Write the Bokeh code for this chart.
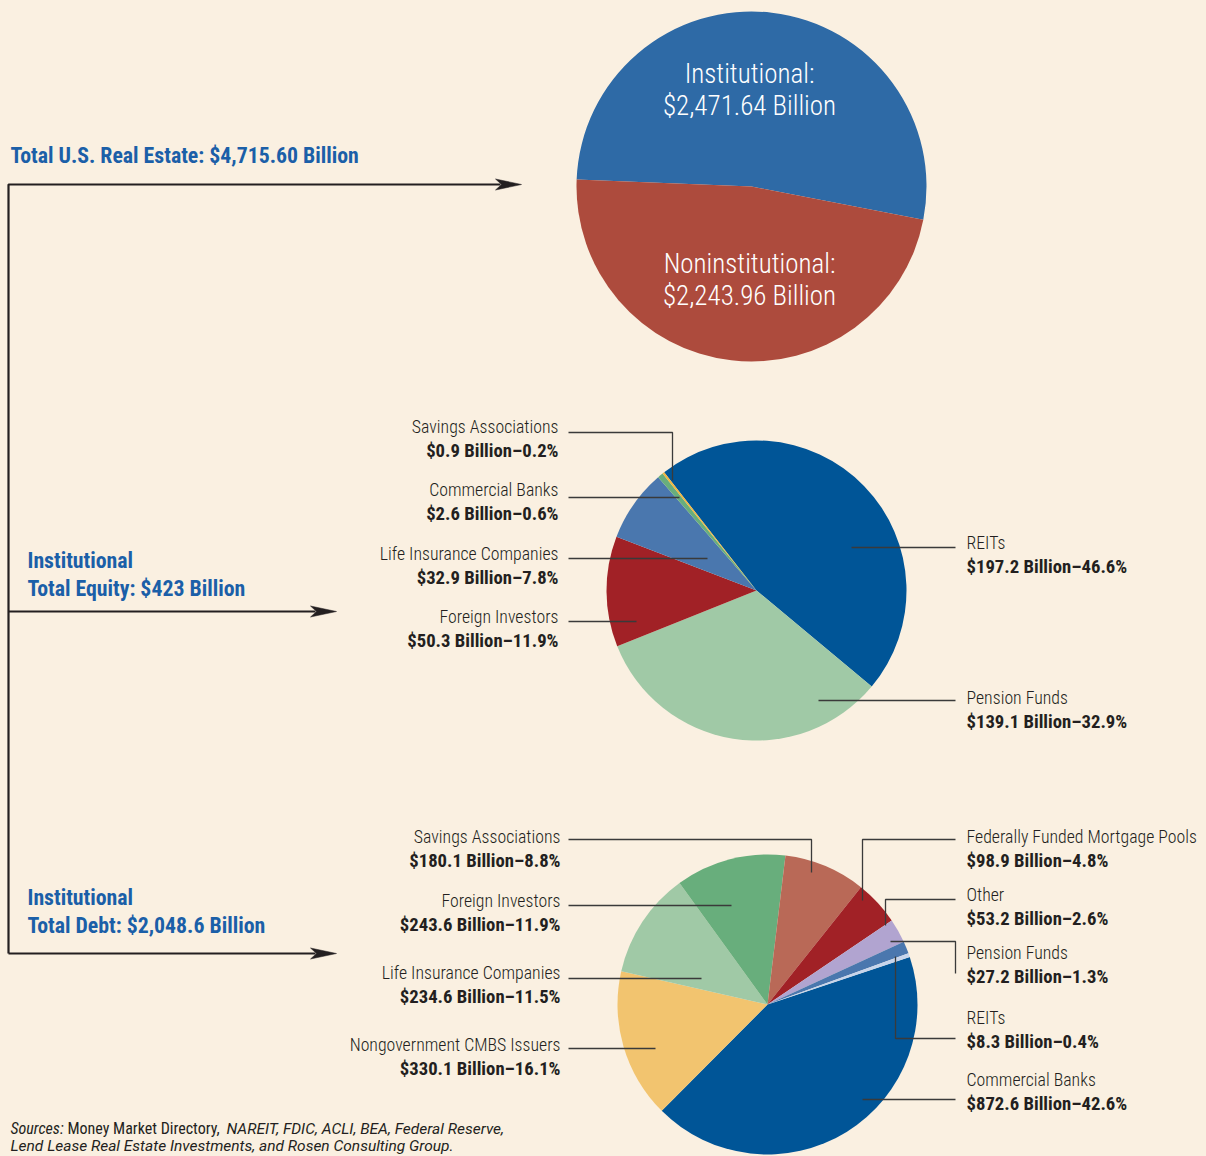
from bokeh.plotting import figure
from bokeh.models import Range1d
from bokeh.embed import file_html
from bokeh.resources import INLINE
from bokeh.core.properties import value

# ---------------- data ----------------
total_names = ["Institutional:", "Noninstitutional:"]
total_values = [2471.64, 2243.96]
total_colors = ["#2E6AA6", "#AD4B3D"]

equity_names = ["REITs", "Pension Funds", "Foreign Investors",
                "Life Insurance Companies", "Commercial Banks", "Savings Associations"]
equity_values = [197.2, 139.1, 50.3, 32.9, 2.6, 0.9]
equity_pcts = [46.6, 32.9, 11.9, 7.8, 0.6, 0.2]
equity_colors = ["#005597", "#A0C9A6", "#A12126", "#4A77AE", "#68AE7C", "#F0B73F"]

debt_names = ["Commercial Banks", "Nongovernment CMBS Issuers", "Life Insurance Companies",
              "Foreign Investors", "Savings Associations", "Federally Funded Mortgage Pools",
              "Other", "Pension Funds", "REITs"]
debt_values = [872.6, 330.1, 234.6, 243.6, 180.1, 98.9, 53.2, 27.2, 8.3]
debt_pcts = [42.6, 16.1, 11.5, 11.9, 8.8, 4.8, 2.6, 1.3, 0.4]
debt_colors = ["#005597", "#F2C46F", "#A0C9A6", "#68AE7C", "#B96957", "#A12126",
               "#B1A4D0", "#4A77AE", "#C7D5EC"]

# ---------------- style / layout ----------------
BG = "#FAF0E1"
INK = "#231F20"
TITLE_BLUE = "#1B5FA8"
FONT = "Roboto Condensed, Roboto"
FONT_LIGHT = "Roboto Condensed Light, Roboto Condensed, Roboto"
FONT_HEAVY = "Roboto Condensed Black, Roboto Condensed ExtraBold, Roboto Condensed, Roboto"
FONT_WIDE = "Roboto"
W, H = 1206, 1156
NAME_SIZE = "17.8px"
VALUE_SIZE = "18.7px"
HEAD_SIZE = "21.8px"


def Y(py):
    return H - py


p = figure(width=W, height=H, output_backend="svg", toolbar_location=None,
           x_range=Range1d(0, W), y_range=Range1d(0, H),
           min_border=0, background_fill_color=BG, border_fill_color=BG)
p.axis.visible = False
p.grid.visible = False
p.outline_line_color = None


def pie(cx, cy, r, values, colors, theta0):
    total = sum(values)
    starts, ends = [], []
    acc = 0.0
    for v in values:
        starts.append(theta0 - acc / total * 360.0)
        acc += v
        ends.append(theta0 - acc / total * 360.0)
    p.wedge(x=[cx] * len(values), y=[Y(cy)] * len(values), radius=r,
            start_angle=starts, end_angle=ends,
            start_angle_units="deg", end_angle_units="deg", direction="clock",
            fill_color=colors, line_color=None)


def txt(x, y, s, size, color=INK, align="left", style="normal", font=FONT):
    p.text(x=[x], y=[Y(y)], text=[s], text_font=value(font), text_font_size=size,
           text_color=color, text_align=align, text_baseline="middle",
           text_font_style=style)


def poly(pts, color="#3A3A3A", w=1.3):
    p.line([a for a, b in pts], [Y(b) for a, b in pts], line_color=color, line_width=w)


def arrow_head(tx, ty):
    p.patch([tx, tx - 26, tx - 20, tx - 26], [Y(ty), Y(ty - 5.5), Y(ty), Y(ty + 5.5)],
            fill_color=INK, line_color=INK, line_width=0.5)


# ---------------- pies ----------------
pie(751, 186, 175, total_values, total_colors, 177.7)
pie(756, 590, 150, equity_values, equity_colors, 128.0)
pie(767, 1004, 150, debt_values, debt_colors, 18.5)

# labels inside total pie
label_y = [(73, 105), (263, 295)]
for name, v, (y1, y2) in zip(total_names, total_values, label_y):
    txt(749, y1, name, "27px", color="white", align="center", font=FONT_LIGHT)
    txt(749, y2, f"${v:,.2f} Billion", "27px", color="white", align="center",
        font=FONT_LIGHT)

# ---------------- connector lines / arrows ----------------
poly([(8, 953), (8, 184), (500, 184)], color=INK, w=2.2)
poly([(8, 611), (315, 611)], color=INK, w=2.2)
poly([(8, 953), (315, 953)], color=INK, w=2.2)
arrow_head(521, 184)
arrow_head(336, 611)
arrow_head(336, 953)

# ---------------- headers ----------------
txt(10, 155, f"Total U.S. Real Estate: ${sum(total_values):,.2f} Billion", HEAD_SIZE,
    color=TITLE_BLUE, style="bold", font=FONT_HEAVY)
txt(27, 560, "Institutional", HEAD_SIZE, color=TITLE_BLUE, style="bold", font=FONT_HEAVY)
txt(27, 588, f"Total Equity: ${sum(equity_values):,.0f} Billion", HEAD_SIZE,
    color=TITLE_BLUE, style="bold", font=FONT_HEAVY)
txt(27, 897, "Institutional", HEAD_SIZE, color=TITLE_BLUE, style="bold", font=FONT_HEAVY)
txt(27, 925, f"Total Debt: ${sum(debt_values):,.1f} Billion", HEAD_SIZE,
    color=TITLE_BLUE, style="bold", font=FONT_HEAVY)

# ---------------- slice labels ----------------
equity_layout = [(966, 542, "left"), (966, 697, "left"), (558, 616, "right"),
                 (558, 553, "right"), (558, 489, "right"), (558, 426, "right")]
equity_leaders = [
    [(851, 547), (955, 547)],
    [(818, 700), (955, 700)],
    [(568, 621), (636, 621)],
    [(568, 558), (707, 558)],
    [(568, 497), (679, 497)],
    [(568, 432), (672, 432), (672, 480)],
]
for n, v, pc, (x, y, al), ld in zip(equity_names, equity_values, equity_pcts,
                                     equity_layout, equity_leaders):
    txt(x, y, n, NAME_SIZE, align=al, font=FONT_LIGHT)
    txt(x, y + 24, f"${v:,.1f} Billion\u2013{pc}%", VALUE_SIZE, align=al, style="bold")
    poly(ld)

debt_layout = [(966, 1079, "left"), (560, 1044, "right"), (560, 972, "right"),
               (560, 900, "right"), (560, 836, "right"), (966, 836, "left"),
               (966, 894, "left"), (966, 952, "left"), (966, 1017, "left")]
debt_leaders = [
    [(862, 1099), (955, 1099)],
    [(568, 1048), (655, 1048)],
    [(568, 978), (701, 978)],
    [(568, 905), (731, 905)],
    [(568, 839), (811, 839), (811, 872)],
    [(955, 839), (862, 839), (862, 900)],
    [(955, 899), (885, 899), (885, 925)],
    [(890, 941), (955, 941), (955, 973)],
    [(895, 956), (895, 1038), (955, 1038)],
]
for n, v, pc, (x, y, al), ld in zip(debt_names, debt_values, debt_pcts,
                                     debt_layout, debt_leaders):
    txt(x, y, n, NAME_SIZE, align=al, font=FONT_LIGHT)
    txt(x, y + 24, f"${v:,.1f} Billion\u2013{pc}%", VALUE_SIZE, align=al, style="bold")
    poly(ld)

# ---------------- sources ----------------
txt(10, 1128, "Sources:", "16px", style="italic")
txt(67, 1128, "Money Market Directory,", "16px")
txt(226, 1128, "NAREIT, FDIC, ACLI, BEA, Federal Reserve,", "15.5px", style="italic",
    font=FONT_WIDE)
txt(10, 1145, "Lend Lease Real Estate Investments, and Rosen Consulting Group.", "15.5px",
    style="italic", font=FONT_WIDE)

template = """{% block postamble %}<style>html, body { background: #FAF0E1; }</style>{% endblock %}"""
open("out.html", "w").write(file_html(p, INLINE, template=template))
